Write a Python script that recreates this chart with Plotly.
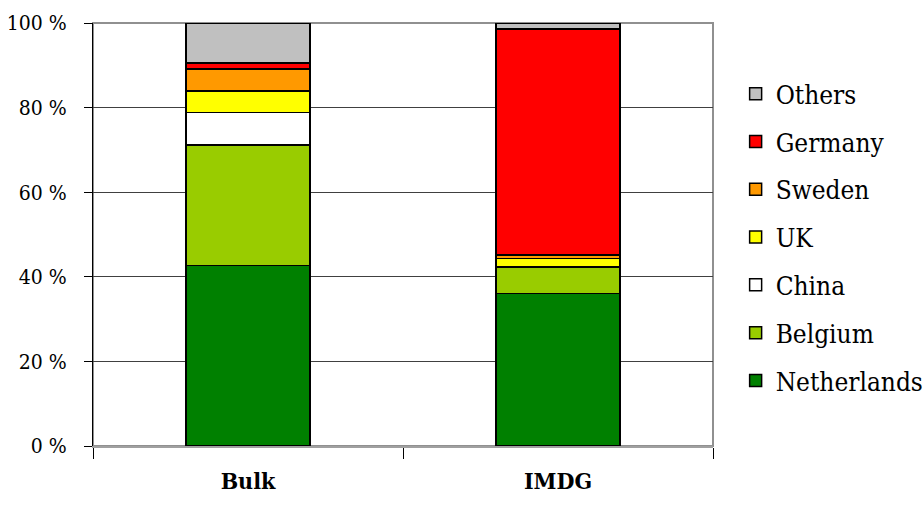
import plotly.graph_objects as go

categories = ["Bulk", "IMDG"]
countries = ["Netherlands", "Belgium", "China", "UK", "Sweden", "Germany", "Others"]
netherlands = [42.7, 36.1]
belgium = [28.5, 6.1]
china = [7.6, 0.2]
uk = [5.1, 1.9]
sweden = [5.2, 0.8]
germany = [1.5, 53.5]
others = [9.4, 1.4]
series = [netherlands, belgium, china, uk, sweden, germany, others]
colors = ["#008000", "#99CC00", "#FFFFFF", "#FFFF00", "#FF9900", "#FF0000", "#C0C0C0"]
y_ticks = [0, 20, 40, 60, 80, 100]
y_tick_labels = ["0 %", "20 %", "40 %", "60 %", "80 %", "100 %"]

FONT = "DejaVu Serif Condensed, DejaVu Serif"

fig = go.Figure()
n = len(countries)
for i, (name, vals, col) in enumerate(zip(countries, series, colors)):
    fig.add_trace(go.Bar(
        x=categories, y=vals, name=name, legendgroup=name,
        legendrank=n - i,
        marker=dict(color=col, line=dict(color="black", width=1.5)),
        width=0.4,
    ))

fig.update_layout(
    width=923, height=509,
    barmode="stack",
    plot_bgcolor="white", paper_bgcolor="white",
    margin=dict(l=93, r=210, t=23, b=63),
    font=dict(family=FONT, color="black", size=22),
    legend=dict(
        traceorder="grouped", tracegroupgap=11,
        font=dict(family=FONT, size=26, color="black"),
        xref="container", yref="container",
        x=0.797, xanchor="left", y=0.862, yanchor="top",
        maxheight=440,
        bgcolor="rgba(0,0,0,0)", borderwidth=0,
    ),
    xaxis=dict(
        automargin=False,
        showline=True, linecolor="#A0A0A0", linewidth=2,
        ticks="outside", tickson="boundaries", ticklen=11, tickcolor="black", tickwidth=1,
        tickfont=dict(family=FONT, size=23, color="black", weight="bold"),
        ticklabelstandoff=13,
        range=[-0.5, 1.5],
    ),
    yaxis=dict(
        automargin=False,
        range=[0, 100], tickmode="array", tickvals=y_ticks, ticktext=y_tick_labels,
        showline=True, linecolor="black", linewidth=1,
        ticks="outside", ticklen=8, tickcolor="black",
        showgrid=True, gridcolor="#404040", gridwidth=1,
        zeroline=False,
        tickfont=dict(family=FONT, size=21, color="black"),
        ticklabelstandoff=13,
    ),
    shapes=[dict(type="rect", xref="paper", yref="paper", x0=0, x1=1, y0=0, y1=1,
                 line=dict(color="#909090", width=2), layer="below")],
)

fig.write_html("out.html")
